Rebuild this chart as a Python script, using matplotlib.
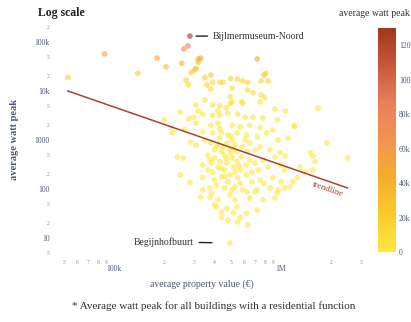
import matplotlib
matplotlib.use("Agg")
import matplotlib.pyplot as plt
from matplotlib.colors import LinearSegmentedColormap, Normalize
import numpy as np

plt.rcParams['font.family'] = ['Liberation Serif', 'DejaVu Serif']

# neighbourhoods: average property value (EUR) and average watt peak
property_value = [
    2.85e5, 2.77e5, 2.62e5, 8.8e4, 5.3e4, 1.81e5, 2.05e5, 1.39e5, 2.55e5, 3.2e5,
    3.2e5, 3.3e5, 3.1e5, 2.9e5, 3.05e5, 2.7e5, 2.8e5, 3.5e5, 3.8e5, 3.9e5,
    4.3e5, 4.5e5, 5.0e5, 3.6e5, 3.8e5, 5.1e5, 5.5e5, 5.9e5, 6.3e5, 7.2e5,
    8.1e5, 7.9e5, 7.6e5, 8.4e5, 6.3e5, 6.8e5, 7.6e5, 8.0e5, 4.95e5, 5.1e5,
    4.3e5, 5.8e5, 9.2e5, 1.06e6, 3.2e5, 3.0e5, 3.9e5, 4.2e5, 4.7e5, 4.8e5,
    6.1e5, 1.67e6, 2.8e5, 3.9e5, 4.95e5, 5.9e5, 7.5e5, 3.4e5, 4.3e5, 5.5e5,
    6.8e5, 7.8e5, 9.5e5, 3.1e5, 3.8e5, 4.2e5, 5.1e5, 5.7e5, 6.5e5, 7.5e5,
    8.9e5, 1.2e6, 2.25e5, 3.4e5, 3.9e5, 4.4e5, 4.8e5, 5.45e5, 6.2e5, 7.2e5,
    8.2e5, 9.6e5, 1.1e6, 1.88e6, 2.85e5, 3.1e5, 3.8e5, 4.1e5, 4.75e5, 5.3e5,
    5.85e5, 6.5e5, 7.5e5, 8.6e5, 9.9e5, 2.4e5, 2.6e5, 3.65e5, 4.0e5, 4.6e5,
    5.1e5, 5.8e5, 6.5e5, 7.8e5, 9.2e5, 1.5e6, 2.5e6, 3.4e5, 3.85e5, 4.2e5,
    4.75e5, 5.2e5, 5.7e5, 6.2e5, 7.3e5, 8.35e5, 9.9e5, 1.3e6, 1.55e6, 3.9e5,
    4.4e5, 4.95e5, 5.5e5, 6.2e5, 7.5e5, 8.9e5, 1.0e6, 1.25e6, 1.4e6, 3.4e5,
    3.4e5, 4.1e5, 4.6e5, 5.3e5, 5.9e5, 7.2e5, 8.6e5, 9.6e5, 1.18e6, 3.75e5,
    4.2e5, 4.95e5, 5.3e5, 6.5e5, 7.8e5, 9.2e5, 4.1e5, 4.4e5, 5.45e5, 6.2e5,
    7.2e5, 4.4e5, 4.8e5, 5.7e5, 6.3e5, 4.95e5, 1.2e6, 1.55e6, 1.6e6, 1.05e6,
    1.13e6, 1.05e6, 7.9e5, 7.0e5, 9.5e5, 1.06e6,
    3.5e5, 4.3e5, 5.1e5, 6.1e5, 4.0e5, 4.4e5, 4.95e5, 5.45e5, 6.3e5, 7.0e5,
    3.75e5, 4.3e5, 5.45e5, 7.0e5, 3.65e5, 4.6e5, 5.3e5, 6.7e5, 4.0e5, 4.8e5,
    5.7e5, 6.7e5, 3.75e5, 5.1e5, 6.3e5, 3.3e5, 3.85e5, 4.75e5, 5.2e5, 5.5e5,
    4.0e5, 2.2e5, 2.65e5, 2.0e5, 2.5e5, 2.85e5, 3.1e5, 3.5e5, 2.5e5,
    4.5e5, 5.0e5, 4.2e5, 4.7e5, 5.6e5, 4.4e5, 5.0e5, 4.6e5, 5.2e5, 4.3e5,
]
watt_peak = [
    1.32e5, 8.3e4, 7.2e4, 5.7e4, 1.9e4, 4.7e4, 3.1e4, 2.3e4, 3.7e4, 4.5e4,
    3.9e4, 4.7e4, 2.9e4, 2.4e4, 2.7e4, 1.67e4, 1.33e4, 1.9e4, 2.1e4, 1.5e4,
    1.5e4, 1.5e4, 1.8e4, 1.33e4, 1.1e4, 1.15e4, 1.75e4, 1.6e4, 1.5e4, 4.5e4,
    2.3e4, 2.1e4, 1.6e4, 1.6e4, 1.05e4, 9.2e3, 8.3e3, 7.3e3, 7.6e3, 6.0e3,
    5.0e3, 6.0e3, 4.3e3, 3.9e3, 3.9e3, 2.9e3, 3.2e3, 3.9e3, 4.5e3, 3.5e3,
    2.9e3, 4.5e3, 2.7e3, 5.2e3, 5.6e3, 5.6e3, 6.0e3, 3.4e3, 3.2e3, 3.4e3,
    2.9e3, 2.8e3, 2.6e3, 2.2e3, 2.0e3, 2.2e3, 2.0e3, 1.85e3, 2.0e3, 1.8e3,
    1.6e3, 2.0e3, 1.4e3, 1.45e3, 1.4e3, 1.45e3, 1.26e3, 1.4e3, 1.26e3, 1.15e3,
    1.4e3, 1.0e3, 1.1e3, 870, 910, 790, 870, 720, 870, 790,
    720, 870, 720, 630, 550, 450, 430, 490, 430, 490,
    430, 450, 390, 390, 450, 550, 430, 310, 340, 280,
    340, 280, 245, 310, 245, 280, 310, 280, 245, 220,
    175, 195, 170, 195, 152, 170, 140, 170, 220, 170,
    96, 120, 105, 110, 96, 96, 105, 96, 140, 68,
    60, 76, 60, 65, 60, 65, 43, 34, 43, 32,
    37, 26, 23, 26, 18.5, 7.9, 1.85e3, 470, 360, 245,
    110, 105, 130, 88, 83, 470,
    1.0e3, 1.1e3, 1.0e3, 1.0e3, 630, 580, 630, 580, 580, 630,
    390, 360, 360, 340, 245, 245, 220, 220, 152, 140,
    130, 140, 105, 96, 88, 68, 82, 40, 33, 21,
    47, 1.8e3, 1.65e3, 2.6e3, 195, 135, 5.2e3, 6.6e3, 3.7e3,
    700, 520, 820, 420, 300, 260, 1.2e3, 180, 650, 1.7e3,
]

# fitted trendline end points
trend_value = [5.3e4, 2.5e6]
trend_peak = [1.0e4, 105]

y_major = [10, 100, 1000, 1e4, 1e5]
y_major_labels = ['10', '100', '1000', '10k', '100k']
y_minor = [5, 20, 50, 200, 500, 2000, 5000, 2e4, 5e4, 2e5]
y_minor_labels = ['5', '2', '5', '2', '5', '2', '5', '2', '5', '2']
x_major = [1e5, 1e6]
x_major_labels = ['100k', '1M']
x_minor = [5e4, 6e4, 7e4, 8e4, 9e4, 2e5, 3e5, 4e5, 5e5, 6e5, 7e5, 8e5, 9e5, 2e6, 3e6]
x_minor_labels = ['5', '6', '7', '8', '9', '2', '3', '4', '5', '6', '7', '8', '9', '2', '3']

cbar_ticks = [0, 20000, 40000, 60000, 80000, 100000, 120000]
cbar_labels = ['0', '20k', '40k', '60k', '80k', '100k', '120k']

label_color = '#4c5878'
tick_color = '#8a8a8a'
trend_color = '#a8442c'
note_color = '#333333'

cmap = LinearSegmentedColormap.from_list(
    'peak', ['#fee83e', '#fbcb2c', '#f6ad2c', '#f29552', '#ea7f5c', '#c9593a', '#a2361c'])
norm = Normalize(vmin=0, vmax=130000)

W, H = 411, 322
fig = plt.figure(figsize=(W / 100, H / 100), dpi=100)
ax = fig.add_axes([55 / W, 1 - 258 / H, 312 / W, 236 / H])

ax.scatter(property_value, watt_peak, c=watt_peak, cmap=cmap, norm=norm,
           s=17, alpha=0.6, linewidths=0, zorder=2)
ax.plot(trend_value, trend_peak, color=trend_color, lw=1.1, zorder=3)

ax.set_xscale('log')
ax.set_yscale('log')
ax.set_xlim(4.44e4, 3.27e6)
ax.set_ylim(3.9, 2.56e5)
for s in ax.spines.values():
    s.set_visible(False)

ax.set_yticks(y_major, y_major_labels)
ax.set_yticks(y_minor, y_minor_labels, minor=True)
ax.set_xticks(x_major, x_major_labels)
ax.set_xticks(x_minor, x_minor_labels, minor=True)
ax.tick_params(which='both', length=0)
ax.tick_params(which='major', labelsize=5.5, labelcolor=label_color)
ax.tick_params(axis='x', which='major', pad=5)
ax.tick_params(axis='x', which='minor', pad=1.5)
ax.tick_params(which='minor', labelsize=4, labelcolor=tick_color)
ax.tick_params(axis='y', which='both', pad=4)

# trendline label sits just under the end of the line
ax.text(1.9e6, 100, 'trendline', color=trend_color, fontsize=6.5,
        rotation=-19, ha='center', va='center', rotation_mode='anchor')

# named outliers
ax.annotate('Bijlmermuseum-Noord', xy=(3.1e5, 1.32e5), xytext=(3.92e5, 1.32e5),
            fontsize=7, color=note_color, va='center', ha='left',
            arrowprops=dict(arrowstyle='-', color='#222222', lw=1,
                            shrinkA=2, shrinkB=0))
ax.annotate('Begijnhofbuurt', xy=(3.86e5, 8.0), xytext=(3.0e5, 8.3),
            fontsize=7, color=note_color, va='center', ha='right',
            arrowprops=dict(arrowstyle='-', color='#222222', lw=1,
                            shrinkA=2, shrinkB=0))

fig.text(38 / W, 1 - 13 / H, 'Log scale', fontsize=8.5, fontweight='bold',
         color='#222222', ha='left', va='center')
fig.text(15 / W, 1 - 140 / H, 'average watt peak', fontsize=7.5, color=label_color,
         rotation=90, ha='center', va='center', fontweight='bold')
fig.text(202 / W, 1 - 284 / H, 'average property value (€)', fontsize=7,
         color=label_color, ha='center', va='center')
fig.text(214 / W, 1 - 306 / H,
         '* Average watt peak for all buildings with a residential function',
         fontsize=8, color=note_color, ha='center', va='center')

# colour bar
cax = fig.add_axes([378 / W, 1 - 252 / H, 18 / W, 224 / H])
grad = np.linspace(0, 130000, 256).reshape(-1, 1)
cax.imshow(grad, aspect='auto', cmap=cmap, norm=norm, origin='lower',
           extent=[0, 1, 0, 130000])
cax.set_xticks([])
cax.yaxis.tick_right()
cax.set_yticks(cbar_ticks, cbar_labels)
cax.tick_params(length=0, labelsize=5.5, labelcolor=label_color, pad=2)
for s in cax.spines.values():
    s.set_visible(False)
fig.text(374 / W, 1 - 13 / H, 'average watt peak', fontsize=7,
         color=note_color, ha='center', va='center')

fig.savefig('out.png', dpi=100, facecolor='white')
